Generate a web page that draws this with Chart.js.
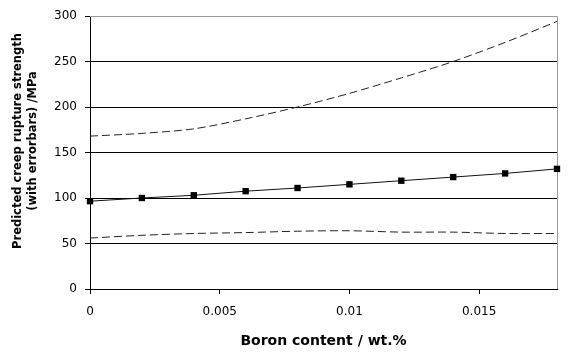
<!DOCTYPE html>
<html>
<head>
<meta charset="utf-8">
<script src="https://cdn.jsdelivr.net/npm/chart.js@4/dist/chart.umd.min.js"></script>
<style>
    html, body { margin: 0; padding: 0; background: #fff; }
    #wrap { width: 587px; height: 352px; }
</style>
</head>
<body>
<div id="wrap"><canvas id="creepChart" width="587" height="352"></canvas></div>
<script>
// Boron content (wt.%) and predicted strengths (MPa)
const boron = [0, 0.002, 0.004, 0.006, 0.008, 0.01, 0.012, 0.014, 0.016, 0.018];
const predicted = [96.5, 100, 103, 107.5, 111, 115, 119, 123, 127, 132];
const upperBound = [168, 171, 176, 187, 200, 215, 232, 250, 271, 294];
const lowerBound = [56, 59, 61, 62, 63.5, 64, 62.5, 62.5, 61, 61];

const xTicks = [0, 0.005, 0.01, 0.015];
const yTicks = [0, 50, 100, 150, 200, 250, 300];

const yTitle = ['Predicted creep rupture strength', '(with errorbars) /MPa'];
const xTitle = 'Boron content / wt.%';

function pts(ys) {
    return boron.map((x, i) => ({ x: x, y: ys[i] }));
}

// gray frame on top and right of plot area, plus rotated y title
const framePlugin = {
    id: 'frame',
    beforeDatasetsDraw(chart) {
        const a = chart.chartArea;
        const ctx = chart.ctx;
        ctx.save();
        ctx.strokeStyle = '#9a9a9a';
        ctx.lineWidth = 1;
        ctx.beginPath();
        ctx.moveTo(a.left, a.top + 0.5);
        ctx.lineTo(a.right + 0.5, a.top + 0.5);
        ctx.lineTo(a.right + 0.5, a.bottom);
        ctx.stroke();
        ctx.restore();
    },
    afterDraw(chart) {
        const ctx = chart.ctx;
        ctx.save();
        ctx.fillStyle = '#000';
        ctx.font = 'bold 11.5px "DejaVu Sans"';
        ctx.textAlign = 'center';
        ctx.textBaseline = 'middle';
        ctx.translate(18, 141);
        ctx.rotate(-Math.PI / 2);
        yTitle.forEach((line, i) => ctx.fillText(line, 0, i * 15));
        ctx.restore();
    }
};

const ctx = document.getElementById('creepChart');
new Chart(ctx, {
    type: 'line',
    data: {
        datasets: [
            {
                label: 'Upper',
                data: pts(upperBound),
                borderColor: '#222',
                borderWidth: 1,
                borderDash: [8, 4],
                pointRadius: 0,
                tension: 0.3,
                clip: false
            },
            {
                label: 'Predicted',
                data: pts(predicted),
                borderColor: '#111',
                borderWidth: 1,
                pointStyle: 'rect',
                pointRadius: 4.5,
                pointBackgroundColor: '#000',
                pointBorderColor: '#000',
                pointBorderWidth: 0,
                tension: 0,
                clip: false
            },
            {
                label: 'Lower',
                data: pts(lowerBound),
                borderColor: '#222',
                borderWidth: 1,
                borderDash: [8, 4],
                pointRadius: 0,
                tension: 0.3,
                clip: false
            }
        ]
    },
    options: {
        responsive: false,
        animation: false,
        layout: { padding: { top: 16, right: 30, left: 0, bottom: 0 } },
        plugins: {
            legend: { display: false },
            tooltip: { enabled: false }
        },
        scales: {
            x: {
                type: 'linear',
                min: 0,
                max: 0.018,
                afterBuildTicks: (scale) => { scale.ticks = xTicks.map(v => ({ value: v })); },
                afterFit: (scale) => { scale.height = 63; },
                ticks: {
                    color: '#000',
                    font: { family: 'DejaVu Sans', size: 12 },
                    padding: 11,
                    maxRotation: 0,
                    callback: (v) => String(v)
                },
                grid: {
                    drawOnChartArea: false,
                    drawTicks: true,
                    tickLength: 5,
                    color: '#000'
                },
                border: { color: '#000', width: 1 },
                title: {
                    display: true,
                    text: xTitle,
                    color: '#000',
                    font: { family: 'DejaVu Sans', size: 14, weight: 'bold' },
                    padding: { top: 0, bottom: 2 }
                }
            },
            y: {
                min: 0,
                max: 300,
                afterBuildTicks: (scale) => { scale.ticks = yTicks.map(v => ({ value: v })); },
                afterFit: (scale) => { scale.width = 90; },
                ticks: {
                    color: '#000',
                    font: { family: 'DejaVu Sans', size: 12 },
                    padding: 8
                },
                grid: {
                    color: (c) => (c.tick && c.tick.value === 300 ? '#9a9a9a' : '#000'),
                    tickColor: '#000',
                    drawTicks: true,
                    tickLength: 5
                },
                border: { color: '#000', width: 1 }
            }
        }
    },
    plugins: [framePlugin]
});
</script>
</body>
</html>
